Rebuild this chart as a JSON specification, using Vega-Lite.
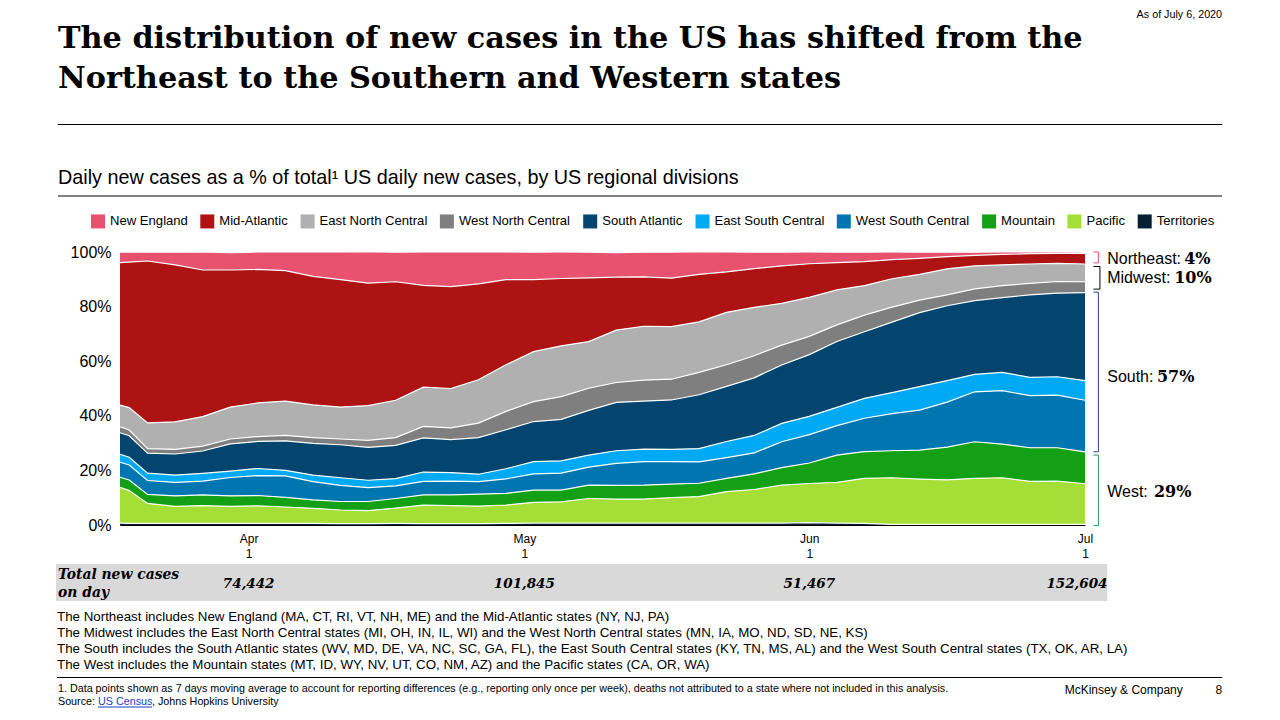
{
"$schema":"https://vega.github.io/schema/vega-lite/v6.json",
"width":965,"height":273,
"autosize":{"type":"none"},
"padding":{"left":120,"top":252,"right":195,"bottom":195},
"background":"white",
"view":{"stroke":null},
"title":{"text":["The distribution of new cases in the US has shifted from the","Northeast to the Southern and Western states"],"font":"DejaVu Serif","fontWeight":"bold","fontSize":30.3,"color":"black","anchor":"start","frame":"group","dx":-62,"offset":-109,"lineHeight":40,"baseline":"alphabetic"},
"config":{"font":"Liberation Sans","axis":{"grid":false,"ticks":false,"title":null,"domainColor":"black","labelColor":"black","zindex":1}},
"datasets":{"shares":[
{"date":"2020-03-18","region":"New England","share":3.8},{"date":"2020-03-18","region":"Mid-Atlantic","share":52.2},{"date":"2020-03-18","region":"East North Central","share":7.9},{"date":"2020-03-18","region":"West North Central","share":2.2},{"date":"2020-03-18","region":"South Atlantic","share":7.9},{"date":"2020-03-18","region":"East South Central","share":2.9},{"date":"2020-03-18","region":"West South Central","share":5.5},{"date":"2020-03-18","region":"Mountain","share":3.7},{"date":"2020-03-18","region":"Pacific","share":13.1},{"date":"2020-03-18","region":"Territories","share":0.7},
{"date":"2020-03-19","region":"New England","share":3.7},{"date":"2020-03-19","region":"Mid-Atlantic","share":53.3},{"date":"2020-03-19","region":"East North Central","share":8.2},{"date":"2020-03-19","region":"West North Central","share":2.1},{"date":"2020-03-19","region":"South Atlantic","share":7.9},{"date":"2020-03-19","region":"East South Central","share":2.8},{"date":"2020-03-19","region":"West South Central","share":5.5},{"date":"2020-03-19","region":"Mountain","share":3.9},{"date":"2020-03-19","region":"Pacific","share":12.0},{"date":"2020-03-19","region":"Territories","share":0.6},
{"date":"2020-03-21","region":"New England","share":3.2},{"date":"2020-03-21","region":"Mid-Atlantic","share":59.3},{"date":"2020-03-21","region":"East North Central","share":9.4},{"date":"2020-03-21","region":"West North Central","share":1.7},{"date":"2020-03-21","region":"South Atlantic","share":7.3},{"date":"2020-03-21","region":"East South Central","share":2.7},{"date":"2020-03-21","region":"West South Central","share":5.1},{"date":"2020-03-21","region":"Mountain","share":3.3},{"date":"2020-03-21","region":"Pacific","share":7.3},{"date":"2020-03-21","region":"Territories","share":0.6},
{"date":"2020-03-24","region":"New England","share":4.6},{"date":"2020-03-24","region":"Mid-Atlantic","share":57.5},{"date":"2020-03-24","region":"East North Central","share":10.1},{"date":"2020-03-24","region":"West North Central","share":1.7},{"date":"2020-03-24","region":"South Atlantic","share":7.7},{"date":"2020-03-24","region":"East South Central","share":2.7},{"date":"2020-03-24","region":"West South Central","share":4.9},{"date":"2020-03-24","region":"Mountain","share":3.9},{"date":"2020-03-24","region":"Pacific","share":6.2},{"date":"2020-03-24","region":"Territories","share":0.6},
{"date":"2020-03-27","region":"New England","share":6.6},{"date":"2020-03-27","region":"Mid-Atlantic","share":53.7},{"date":"2020-03-27","region":"East North Central","share":10.8},{"date":"2020-03-27","region":"West North Central","share":1.8},{"date":"2020-03-27","region":"South Atlantic","share":8.2},{"date":"2020-03-27","region":"East South Central","share":2.8},{"date":"2020-03-27","region":"West South Central","share":5.1},{"date":"2020-03-27","region":"Mountain","share":3.9},{"date":"2020-03-27","region":"Pacific","share":6.5},{"date":"2020-03-27","region":"Territories","share":0.6},
{"date":"2020-03-30","region":"New England","share":6.4},{"date":"2020-03-30","region":"Mid-Atlantic","share":50.2},{"date":"2020-03-30","region":"East North Central","share":11.7},{"date":"2020-03-30","region":"West North Central","share":1.8},{"date":"2020-03-30","region":"South Atlantic","share":10.0},{"date":"2020-03-30","region":"East South Central","share":2.3},{"date":"2020-03-30","region":"West South Central","share":6.7},{"date":"2020-03-30","region":"Mountain","share":3.9},{"date":"2020-03-30","region":"Pacific","share":6.2},{"date":"2020-03-30","region":"Territories","share":0.6},
{"date":"2020-04-02","region":"New England","share":6.4},{"date":"2020-04-02","region":"Mid-Atlantic","share":48.9},{"date":"2020-04-02","region":"East North Central","share":12.3},{"date":"2020-04-02","region":"West North Central","share":1.8},{"date":"2020-04-02","region":"South Atlantic","share":9.9},{"date":"2020-04-02","region":"East South Central","share":2.6},{"date":"2020-04-02","region":"West South Central","share":7.3},{"date":"2020-04-02","region":"Mountain","share":3.8},{"date":"2020-04-02","region":"Pacific","share":6.4},{"date":"2020-04-02","region":"Territories","share":0.6},
{"date":"2020-04-05","region":"New England","share":6.8},{"date":"2020-04-05","region":"Mid-Atlantic","share":47.8},{"date":"2020-04-05","region":"East North Central","share":12.6},{"date":"2020-04-05","region":"West North Central","share":2.0},{"date":"2020-04-05","region":"South Atlantic","share":10.8},{"date":"2020-04-05","region":"East South Central","share":2.0},{"date":"2020-04-05","region":"West South Central","share":7.9},{"date":"2020-04-05","region":"Mountain","share":3.5},{"date":"2020-04-05","region":"Pacific","share":6.0},{"date":"2020-04-05","region":"Territories","share":0.6},
{"date":"2020-04-08","region":"New England","share":8.9},{"date":"2020-04-08","region":"Mid-Atlantic","share":47.1},{"date":"2020-04-08","region":"East North Central","share":12.0},{"date":"2020-04-08","region":"West North Central","share":2.1},{"date":"2020-04-08","region":"South Atlantic","share":11.6},{"date":"2020-04-08","region":"East South Central","share":2.4},{"date":"2020-04-08","region":"West South Central","share":6.7},{"date":"2020-04-08","region":"Mountain","share":3.1},{"date":"2020-04-08","region":"Pacific","share":5.5},{"date":"2020-04-08","region":"Territories","share":0.6},
{"date":"2020-04-11","region":"New England","share":10.1},{"date":"2020-04-11","region":"Mid-Atlantic","share":46.7},{"date":"2020-04-11","region":"East North Central","share":11.7},{"date":"2020-04-11","region":"West North Central","share":2.1},{"date":"2020-04-11","region":"South Atlantic","share":12.1},{"date":"2020-04-11","region":"East South Central","share":2.8},{"date":"2020-04-11","region":"West South Central","share":5.9},{"date":"2020-04-11","region":"Mountain","share":3.1},{"date":"2020-04-11","region":"Pacific","share":5.0},{"date":"2020-04-11","region":"Territories","share":0.5},
{"date":"2020-04-14","region":"New England","share":11.5},{"date":"2020-04-14","region":"Mid-Atlantic","share":44.9},{"date":"2020-04-14","region":"East North Central","share":12.7},{"date":"2020-04-14","region":"West North Central","share":2.6},{"date":"2020-04-14","region":"South Atlantic","share":12.0},{"date":"2020-04-14","region":"East South Central","share":2.7},{"date":"2020-04-14","region":"West South Central","share":5.1},{"date":"2020-04-14","region":"Mountain","share":3.3},{"date":"2020-04-14","region":"Pacific","share":4.8},{"date":"2020-04-14","region":"Territories","share":0.5},
{"date":"2020-04-17","region":"New England","share":10.8},{"date":"2020-04-17","region":"Mid-Atlantic","share":43.4},{"date":"2020-04-17","region":"East North Central","share":13.7},{"date":"2020-04-17","region":"West North Central","share":2.8},{"date":"2020-04-17","region":"South Atlantic","share":12.2},{"date":"2020-04-17","region":"East South Central","share":2.7},{"date":"2020-04-17","region":"West South Central","share":4.6},{"date":"2020-04-17","region":"Mountain","share":3.5},{"date":"2020-04-17","region":"Pacific","share":5.6},{"date":"2020-04-17","region":"Territories","share":0.6},
{"date":"2020-04-20","region":"New England","share":12.2},{"date":"2020-04-20","region":"Mid-Atlantic","share":37.3},{"date":"2020-04-20","region":"East North Central","share":14.4},{"date":"2020-04-20","region":"West North Central","share":4.2},{"date":"2020-04-20","region":"South Atlantic","share":12.5},{"date":"2020-04-20","region":"East South Central","share":3.4},{"date":"2020-04-20","region":"West South Central","share":5.0},{"date":"2020-04-20","region":"Mountain","share":3.7},{"date":"2020-04-20","region":"Pacific","share":6.8},{"date":"2020-04-20","region":"Territories","share":0.5},
{"date":"2020-04-23","region":"New England","share":12.7},{"date":"2020-04-23","region":"Mid-Atlantic","share":37.3},{"date":"2020-04-23","region":"East North Central","share":14.4},{"date":"2020-04-23","region":"West North Central","share":4.3},{"date":"2020-04-23","region":"South Atlantic","share":12.1},{"date":"2020-04-23","region":"East South Central","share":3.1},{"date":"2020-04-23","region":"West South Central","share":5.1},{"date":"2020-04-23","region":"Mountain","share":3.9},{"date":"2020-04-23","region":"Pacific","share":6.6},{"date":"2020-04-23","region":"Territories","share":0.5},
{"date":"2020-04-26","region":"New England","share":11.7},{"date":"2020-04-26","region":"Mid-Atlantic","share":35.1},{"date":"2020-04-26","region":"East North Central","share":15.9},{"date":"2020-04-26","region":"West North Central","share":5.3},{"date":"2020-04-26","region":"South Atlantic","share":13.4},{"date":"2020-04-26","region":"East South Central","share":2.7},{"date":"2020-04-26","region":"West South Central","share":4.6},{"date":"2020-04-26","region":"Mountain","share":4.4},{"date":"2020-04-26","region":"Pacific","share":6.4},{"date":"2020-04-26","region":"Territories","share":0.5},
{"date":"2020-04-29","region":"New England","share":10.1},{"date":"2020-04-29","region":"Mid-Atlantic","share":31.2},{"date":"2020-04-29","region":"East North Central","share":17.1},{"date":"2020-04-29","region":"West North Central","share":6.7},{"date":"2020-04-29","region":"South Atlantic","share":14.3},{"date":"2020-04-29","region":"East South Central","share":3.7},{"date":"2020-04-29","region":"West South Central","share":5.3},{"date":"2020-04-29","region":"Mountain","share":4.3},{"date":"2020-04-29","region":"Pacific","share":6.7},{"date":"2020-04-29","region":"Territories","share":0.6},
{"date":"2020-05-02","region":"New England","share":10.0},{"date":"2020-05-02","region":"Mid-Atlantic","share":26.4},{"date":"2020-05-02","region":"East North Central","share":18.3},{"date":"2020-05-02","region":"West North Central","share":7.3},{"date":"2020-05-02","region":"South Atlantic","share":14.7},{"date":"2020-05-02","region":"East South Central","share":4.5},{"date":"2020-05-02","region":"West South Central","share":5.9},{"date":"2020-05-02","region":"Mountain","share":4.5},{"date":"2020-05-02","region":"Pacific","share":7.6},{"date":"2020-05-02","region":"Territories","share":0.7},
{"date":"2020-05-05","region":"New England","share":9.7},{"date":"2020-05-05","region":"Mid-Atlantic","share":24.7},{"date":"2020-05-05","region":"East North Central","share":18.6},{"date":"2020-05-05","region":"West North Central","share":8.3},{"date":"2020-05-05","region":"South Atlantic","share":15.2},{"date":"2020-05-05","region":"East South Central","share":4.5},{"date":"2020-05-05","region":"West South Central","share":6.2},{"date":"2020-05-05","region":"Mountain","share":4.3},{"date":"2020-05-05","region":"Pacific","share":7.8},{"date":"2020-05-05","region":"Territories","share":0.7},
{"date":"2020-05-08","region":"New England","share":9.4},{"date":"2020-05-08","region":"Mid-Atlantic","share":23.3},{"date":"2020-05-08","region":"East North Central","share":17.1},{"date":"2020-05-08","region":"West North Central","share":8.1},{"date":"2020-05-08","region":"South Atlantic","share":16.4},{"date":"2020-05-08","region":"East South Central","share":4.4},{"date":"2020-05-08","region":"West South Central","share":6.6},{"date":"2020-05-08","region":"Mountain","share":4.9},{"date":"2020-05-08","region":"Pacific","share":9.0},{"date":"2020-05-08","region":"Territories","share":0.7},
{"date":"2020-05-11","region":"New England","share":9.0},{"date":"2020-05-11","region":"Mid-Atlantic","share":19.4},{"date":"2020-05-11","region":"East North Central","share":19.2},{"date":"2020-05-11","region":"West North Central","share":7.3},{"date":"2020-05-11","region":"South Atlantic","share":17.7},{"date":"2020-05-11","region":"East South Central","share":4.6},{"date":"2020-05-11","region":"West South Central","share":8.1},{"date":"2020-05-11","region":"Mountain","share":5.0},{"date":"2020-05-11","region":"Pacific","share":8.8},{"date":"2020-05-11","region":"Territories","share":0.7},
{"date":"2020-05-14","region":"New England","share":9.0},{"date":"2020-05-14","region":"Mid-Atlantic","share":18.1},{"date":"2020-05-14","region":"East North Central","share":19.7},{"date":"2020-05-14","region":"West North Central","share":7.7},{"date":"2020-05-14","region":"South Atlantic","share":17.6},{"date":"2020-05-14","region":"East South Central","share":4.6},{"date":"2020-05-14","region":"West South Central","share":8.6},{"date":"2020-05-14","region":"Mountain","share":5.1},{"date":"2020-05-14","region":"Pacific","share":8.8},{"date":"2020-05-14","region":"Territories","share":0.7},
{"date":"2020-05-17","region":"New England","share":9.5},{"date":"2020-05-17","region":"Mid-Atlantic","share":17.7},{"date":"2020-05-17","region":"East North Central","share":19.3},{"date":"2020-05-17","region":"West North Central","share":7.6},{"date":"2020-05-17","region":"South Atlantic","share":18.1},{"date":"2020-05-17","region":"East South Central","share":4.5},{"date":"2020-05-17","region":"West South Central","share":8.2},{"date":"2020-05-17","region":"Mountain","share":5.0},{"date":"2020-05-17","region":"Pacific","share":9.3},{"date":"2020-05-17","region":"Territories","share":0.7},
{"date":"2020-05-20","region":"New England","share":8.3},{"date":"2020-05-20","region":"Mid-Atlantic","share":17.4},{"date":"2020-05-20","region":"East North Central","share":18.5},{"date":"2020-05-20","region":"West North Central","share":8.2},{"date":"2020-05-20","region":"South Atlantic","share":19.7},{"date":"2020-05-20","region":"East South Central","share":4.9},{"date":"2020-05-20","region":"West South Central","share":7.8},{"date":"2020-05-20","region":"Mountain","share":4.9},{"date":"2020-05-20","region":"Pacific","share":9.7},{"date":"2020-05-20","region":"Territories","share":0.7},
{"date":"2020-05-23","region":"New England","share":7.3},{"date":"2020-05-23","region":"Mid-Atlantic","share":14.8},{"date":"2020-05-23","region":"East North Central","share":19.2},{"date":"2020-05-23","region":"West North Central","share":7.9},{"date":"2020-05-23","region":"South Atlantic","share":20.2},{"date":"2020-05-23","region":"East South Central","share":5.9},{"date":"2020-05-23","region":"West South Central","share":7.6},{"date":"2020-05-23","region":"Mountain","share":4.9},{"date":"2020-05-23","region":"Pacific","share":11.5},{"date":"2020-05-23","region":"Territories","share":0.7},
{"date":"2020-05-26","region":"New England","share":6.0},{"date":"2020-05-26","region":"Mid-Atlantic","share":14.2},{"date":"2020-05-26","region":"East North Central","share":17.7},{"date":"2020-05-26","region":"West North Central","share":8.1},{"date":"2020-05-26","region":"South Atlantic","share":21.1},{"date":"2020-05-26","region":"East South Central","share":6.4},{"date":"2020-05-26","region":"West South Central","share":7.7},{"date":"2020-05-26","region":"Mountain","share":5.7},{"date":"2020-05-26","region":"Pacific","share":12.3},{"date":"2020-05-26","region":"Territories","share":0.7},
{"date":"2020-05-29","region":"New England","share":5.0},{"date":"2020-05-29","region":"Mid-Atlantic","share":13.7},{"date":"2020-05-29","region":"East North Central","share":15.3},{"date":"2020-05-29","region":"West North Central","share":7.3},{"date":"2020-05-29","region":"South Atlantic","share":21.4},{"date":"2020-05-29","region":"East South Central","share":6.7},{"date":"2020-05-29","region":"West South Central","share":9.5},{"date":"2020-05-29","region":"Mountain","share":6.4},{"date":"2020-05-29","region":"Pacific","share":13.9},{"date":"2020-05-29","region":"Territories","share":0.7},
{"date":"2020-06-01","region":"New England","share":4.3},{"date":"2020-06-01","region":"Mid-Atlantic","share":12.3},{"date":"2020-06-01","region":"East North Central","share":14.3},{"date":"2020-06-01","region":"West North Central","share":6.7},{"date":"2020-06-01","region":"South Atlantic","share":22.6},{"date":"2020-06-01","region":"East South Central","share":6.7},{"date":"2020-06-01","region":"West South Central","share":10.4},{"date":"2020-06-01","region":"Mountain","share":7.5},{"date":"2020-06-01","region":"Pacific","share":14.3},{"date":"2020-06-01","region":"Territories","share":0.9},
{"date":"2020-06-04","region":"New England","share":3.8},{"date":"2020-06-04","region":"Mid-Atlantic","share":10.0},{"date":"2020-06-04","region":"East North Central","share":12.8},{"date":"2020-06-04","region":"West North Central","share":6.1},{"date":"2020-06-04","region":"South Atlantic","share":24.1},{"date":"2020-06-04","region":"East South Central","share":6.7},{"date":"2020-06-04","region":"West South Central","share":10.8},{"date":"2020-06-04","region":"Mountain","share":10.0},{"date":"2020-06-04","region":"Pacific","share":14.9},{"date":"2020-06-04","region":"Territories","share":0.7},
{"date":"2020-06-07","region":"New England","share":3.4},{"date":"2020-06-07","region":"Mid-Atlantic","share":8.8},{"date":"2020-06-07","region":"East North Central","share":10.8},{"date":"2020-06-07","region":"West North Central","share":6.1},{"date":"2020-06-07","region":"South Atlantic","share":24.4},{"date":"2020-06-07","region":"East South Central","share":7.3},{"date":"2020-06-07","region":"West South Central","share":12.2},{"date":"2020-06-07","region":"Mountain","share":9.8},{"date":"2020-06-07","region":"Pacific","share":16.5},{"date":"2020-06-07","region":"Territories","share":0.6},
{"date":"2020-06-10","region":"New England","share":2.8},{"date":"2020-06-10","region":"Mid-Atlantic","share":7.0},{"date":"2020-06-10","region":"East North Central","share":10.4},{"date":"2020-06-10","region":"West North Central","share":5.5},{"date":"2020-06-10","region":"South Atlantic","share":25.8},{"date":"2020-06-10","region":"East South Central","share":7.7},{"date":"2020-06-10","region":"West South Central","share":13.6},{"date":"2020-06-10","region":"Mountain","share":9.9},{"date":"2020-06-10","region":"Pacific","share":17.1},{"date":"2020-06-10","region":"Territories","share":0.2},
{"date":"2020-06-13","region":"New England","share":2.2},{"date":"2020-06-13","region":"Mid-Atlantic","share":5.9},{"date":"2020-06-13","region":"East North Central","share":9.4},{"date":"2020-06-13","region":"West North Central","share":4.6},{"date":"2020-06-13","region":"South Atlantic","share":27.1},{"date":"2020-06-13","region":"East South Central","share":8.6},{"date":"2020-06-13","region":"West South Central","share":14.7},{"date":"2020-06-13","region":"Mountain","share":10.6},{"date":"2020-06-13","region":"Pacific","share":16.6},{"date":"2020-06-13","region":"Territories","share":0.2},
{"date":"2020-06-16","region":"New England","share":1.6},{"date":"2020-06-16","region":"Mid-Atlantic","share":4.5},{"date":"2020-06-16","region":"East North Central","share":9.5},{"date":"2020-06-16","region":"West North Central","share":4.0},{"date":"2020-06-16","region":"South Atlantic","share":27.4},{"date":"2020-06-16","region":"East South Central","share":7.9},{"date":"2020-06-16","region":"West South Central","share":16.5},{"date":"2020-06-16","region":"Mountain","share":12.0},{"date":"2020-06-16","region":"Pacific","share":16.3},{"date":"2020-06-16","region":"Territories","share":0.2},
{"date":"2020-06-19","region":"New England","share":1.1},{"date":"2020-06-19","region":"Mid-Atlantic","share":3.9},{"date":"2020-06-19","region":"East North Central","share":8.4},{"date":"2020-06-19","region":"West North Central","share":4.3},{"date":"2020-06-19","region":"South Atlantic","share":27.0},{"date":"2020-06-19","region":"East South Central","share":6.4},{"date":"2020-06-19","region":"West South Central","share":18.3},{"date":"2020-06-19","region":"Mountain","share":13.4},{"date":"2020-06-19","region":"Pacific","share":16.9},{"date":"2020-06-19","region":"Territories","share":0.2},
{"date":"2020-06-22","region":"New England","share":0.9},{"date":"2020-06-22","region":"Mid-Atlantic","share":3.8},{"date":"2020-06-22","region":"East North Central","share":7.6},{"date":"2020-06-22","region":"West North Central","share":4.4},{"date":"2020-06-22","region":"South Atlantic","share":27.4},{"date":"2020-06-22","region":"East South Central","share":6.7},{"date":"2020-06-22","region":"West South Central","share":19.6},{"date":"2020-06-22","region":"Mountain","share":12.3},{"date":"2020-06-22","region":"Pacific","share":17.1},{"date":"2020-06-22","region":"Territories","share":0.2},
{"date":"2020-06-25","region":"New England","share":0.6},{"date":"2020-06-25","region":"Mid-Atlantic","share":3.8},{"date":"2020-06-25","region":"East North Central","share":7.1},{"date":"2020-06-25","region":"West North Central","share":4.2},{"date":"2020-06-25","region":"South Atlantic","share":30.2},{"date":"2020-06-25","region":"East South Central","share":6.7},{"date":"2020-06-25","region":"West South Central","share":19.1},{"date":"2020-06-25","region":"Mountain","share":12.3},{"date":"2020-06-25","region":"Pacific","share":15.8},{"date":"2020-06-25","region":"Territories","share":0.2},
{"date":"2020-06-28","region":"New England","share":0.5},{"date":"2020-06-28","region":"Mid-Atlantic","share":3.7},{"date":"2020-06-28","region":"East North Central","share":6.6},{"date":"2020-06-28","region":"West North Central","share":4.3},{"date":"2020-06-28","region":"South Atlantic","share":30.6},{"date":"2020-06-28","region":"East South Central","share":6.7},{"date":"2020-06-28","region":"West South Central","share":19.3},{"date":"2020-06-28","region":"Mountain","share":12.2},{"date":"2020-06-28","region":"Pacific","share":15.9},{"date":"2020-06-28","region":"Territories","share":0.2},
{"date":"2020-07-01","region":"New England","share":0.4},{"date":"2020-07-01","region":"Mid-Atlantic","share":3.9},{"date":"2020-07-01","region":"East North Central","share":6.5},{"date":"2020-07-01","region":"West North Central","share":4.0},{"date":"2020-07-01","region":"South Atlantic","share":32.2},{"date":"2020-07-01","region":"East South Central","share":7.2},{"date":"2020-07-01","region":"West South Central","share":18.9},{"date":"2020-07-01","region":"Mountain","share":11.7},{"date":"2020-07-01","region":"Pacific","share":14.9},{"date":"2020-07-01","region":"Territories","share":0.2}
]},
"encoding":{
"x":{"field":"date","type":"temporal","scale":{"type":"utc","domain":["2020-03-18","2020-07-01"],"nice":false},"axis":{"values":["2020-04-01","2020-05-01","2020-06-01","2020-07-01"],"labelExpr":"[utcFormat(datum.value,'%b'),utcFormat(datum.value,'%-d')]","labelFontSize":12,"labelLineHeight":15,"labelPadding":8,"labelAngle":0,"labelOverlap":false,"labelFlush":false}},
"y":{"field":"pct","type":"quantitative","scale":{"domain":[0,100],"nice":false},"axis":{"values":[0,20,40,60,80,100],"labelExpr":"datum.value+'%'","labelFontSize":16,"labelPadding":9}}
},
"layer":[
{"data":{"values":[{"date":"2020-03-11T01:00:00Z","date2":"2020-07-03T10:00:00Z","pct":-14.29,"pct2":-27.84}],"format":{"parse":{"date":"date","date2":"date"}}},"mark":{"type":"rect","color":"#d9d9d9"},"encoding":{"x2":{"field":"date2"},"y2":{"field":"pct2"}}},
{"data":{"name":"shares"},"transform":[{"calculate":"indexof(['Territories','Pacific','Mountain','West South Central','East South Central','South Atlantic','West North Central','East North Central','Mid-Atlantic','New England'],datum.region)","as":"rank"}],"mark":{"type":"area"},"encoding":{"y":{"field":"share","type":"quantitative","stack":"zero"},"order":{"field":"rank","type":"quantitative"},"color":{"field":"region","type":"nominal","scale":{"domain":["New England","Mid-Atlantic","East North Central","West North Central","South Atlantic","East South Central","West South Central","Mountain","Pacific","Territories"],"range":["#e8526f","#ad1313","#b0b0b0","#7f7f7f","#03456e","#00a9f4","#0076b0","#13a014","#a4de36","#061f33"]},"legend":{"title":null,"orient":"none","legendX":-29,"legendY":-38,"direction":"horizontal","columns":10,"symbolType":"square","symbolSize":196,"symbolStrokeWidth":0,"labelFontSize":13.1,"labelColor":"black","labelOffset":5,"columnPadding":12.3,"symbolOpacity":1}}}},
{"data":{"name":"shares"},"transform":[{"calculate":"indexof(['Territories','Pacific','Mountain','West South Central','East South Central','South Atlantic','West North Central','East North Central','Mid-Atlantic','New England'],datum.region)","as":"rank"}],"mark":{"type":"line","color":"white","strokeWidth":1.2},"encoding":{"y":{"field":"share","type":"quantitative","stack":"zero"},"order":{"field":"rank","type":"quantitative"},"detail":{"field":"region","type":"nominal"}}},
{"data":{"values":[{"group":"Northeast","date":"2020-07-01T22:00:00Z","date2":"2020-07-02T11:00:00Z","pct":100,"pct2":100},{"group":"Northeast","date":"2020-07-02T11:00:00Z","date2":"2020-07-02T11:00:00Z","pct":100,"pct2":96},{"group":"Northeast","date":"2020-07-01T22:00:00Z","date2":"2020-07-02T11:00:00Z","pct":96,"pct2":96},
{"group":"Midwest","date":"2020-07-01T22:00:00Z","date2":"2020-07-02T15:00:00Z","pct":94.7,"pct2":94.7},{"group":"Midwest","date":"2020-07-02T15:00:00Z","date2":"2020-07-02T15:00:00Z","pct":94.7,"pct2":86.4},{"group":"Midwest","date":"2020-07-01T22:00:00Z","date2":"2020-07-02T15:00:00Z","pct":86.4,"pct2":86.4},
{"group":"South","date":"2020-07-01T22:00:00Z","date2":"2020-07-02T11:00:00Z","pct":85.3,"pct2":85.3},{"group":"South","date":"2020-07-02T11:00:00Z","date2":"2020-07-02T11:00:00Z","pct":85.3,"pct2":26.8},{"group":"South","date":"2020-07-01T22:00:00Z","date2":"2020-07-02T11:00:00Z","pct":26.8,"pct2":26.8},
{"group":"West","date":"2020-07-01T22:00:00Z","date2":"2020-07-02T11:00:00Z","pct":25.6,"pct2":25.6},{"group":"West","date":"2020-07-02T11:00:00Z","date2":"2020-07-02T11:00:00Z","pct":25.6,"pct2":-0.2},{"group":"West","date":"2020-07-01T22:00:00Z","date2":"2020-07-02T11:00:00Z","pct":-0.2,"pct2":-0.2}],"format":{"parse":{"date":"date","date2":"date"}}},"mark":{"type":"rule","strokeWidth":1},"encoding":{"x2":{"field":"date2"},"y2":{"field":"pct2"},"color":{"field":"group","type":"nominal","scale":{"domain":["Northeast","Midwest","South","West"],"range":["#e8526f","#000000","#2a3fa0","#1f9e5a"]},"legend":null}}},
{"data":{"values":[{"date":"2020-03-11T06:00:00Z","date2":"2020-07-15T22:00:00Z","pct":146.7},{"date":"2020-03-11T03:30:00Z","date2":"2020-07-15T22:00:00Z","pct":-55.86}],"format":{"parse":{"date":"date","date2":"date"}}},"mark":{"type":"rule","color":"black","strokeWidth":1},"encoding":{"x2":{"field":"date2"}}},
{"data":{"values":[{"date":"2020-03-11T06:00:00Z","date2":"2020-07-15T22:00:00Z","pct":120.5}],"format":{"parse":{"date":"date","date2":"date"}}},"mark":{"type":"rule","color":"#808080","strokeWidth":2},"encoding":{"x2":{"field":"date2"}}},
{"data":{"values":[{"date":"2020-03-15T14:40:00Z","date2":"2020-03-21T11:30:00Z","pct":-66.67}],"format":{"parse":{"date":"date","date2":"date"}}},"mark":{"type":"rule","color":"#1a3fc4","strokeWidth":1},"encoding":{"x2":{"field":"date2"}}},
{"data":{"values":[{"date":"2020-03-11T06:00:00Z","pct":127.1,"text":"Daily new cases as a % of total¹ US daily new cases, by US regional divisions"}]},"mark":{"type":"text","align":"left","baseline":"middle","fontSize":19.8,"color":"black"},"encoding":{"text":{"field":"text"}}},
{"data":{"values":[{"date":"2020-07-15T22:00:00Z","pct":186.8,"text":"As of July 6, 2020"}]},"mark":{"type":"text","align":"right","baseline":"middle","fontSize":10.75,"color":"black"},"encoding":{"text":{"field":"text"}}},
{"data":{"values":[{"date":"2020-03-11T03:30:00Z","pct":-33.7,"text":"The Northeast includes New England (MA, CT, RI, VT, NH, ME) and the Mid-Atlantic states (NY, NJ, PA)"},{"date":"2020-03-11T03:30:00Z","pct":-39.56,"text":"The Midwest includes the East North Central states (MI, OH, IN, IL, WI) and the West North Central states (MN, IA, MO, ND, SD, NE, KS)"},{"date":"2020-03-11T03:30:00Z","pct":-45.4,"text":"The South includes the South Atlantic states (WV, MD, DE, VA, NC, SC, GA, FL), the East South Central states (KY, TN, MS, AL) and the West South Central states (TX, OK, AR, LA)"},{"date":"2020-03-11T03:30:00Z","pct":-51.3,"text":"The West includes the Mountain states (MT, ID, WY, NV, UT, CO, NM, AZ) and the Pacific states (CA, OR, WA)"}]},"mark":{"type":"text","align":"left","baseline":"middle","fontSize":13.33,"color":"black"},"encoding":{"text":{"field":"text"}}},
{"data":{"values":[{"date":"2020-03-11T06:00:00Z","pct":-60.07,"text":"1. Data points shown as 7 days moving average to account for reporting differences (e.g., reporting only once per week), deaths not attributed to a state where not included in this analysis."},{"date":"2020-03-11T06:00:00Z","pct":-64.84,"text":"Source:"},{"date":"2020-03-21T11:30:00Z","pct":-64.84,"text":", Johns Hopkins University"}]},"mark":{"type":"text","align":"left","baseline":"middle","fontSize":10.75,"color":"black"},"encoding":{"text":{"field":"text"}}},
{"data":{"values":[{"date":"2020-03-15T14:40:00Z","pct":-64.84,"text":"US Census"}]},"mark":{"type":"text","align":"left","baseline":"middle","fontSize":10.75,"color":"#1a3fc4"},"encoding":{"text":{"field":"text"}}},
{"data":{"values":[{"date":"2020-06-28T19:00:00Z","pct":-60.44,"text":"McKinsey & Company"}]},"mark":{"type":"text","align":"left","baseline":"middle","fontSize":12,"color":"black"},"encoding":{"text":{"field":"text"}}},
{"data":{"values":[{"date":"2020-07-15T22:00:00Z","pct":-60.44,"text":"8"}]},"mark":{"type":"text","align":"right","baseline":"middle","fontSize":12,"color":"black"},"encoding":{"text":{"field":"text"}}},
{"data":{"values":[{"date":"2020-07-03T10:00:00Z","pct":97.43,"text":"Northeast:"},{"date":"2020-07-03T10:00:00Z","pct":90.43,"text":"Midwest:"},{"date":"2020-07-03T10:00:00Z","pct":54.23,"text":"South:"},{"date":"2020-07-03T10:00:00Z","pct":12.08,"text":"West:"}]},"mark":{"type":"text","align":"left","baseline":"middle","fontSize":16,"color":"black"},"encoding":{"text":{"field":"text"}}},
{"data":{"values":[{"date":"2020-07-11T19:00:00Z","pct":97.43,"text":"4%"},{"date":"2020-07-10T17:00:00Z","pct":90.43,"text":"10%"},{"date":"2020-07-08T20:00:00Z","pct":54.23,"text":"57%"},{"date":"2020-07-08T12:00:00Z","pct":12.08,"text":"29%"}]},"mark":{"type":"text","align":"left","baseline":"middle","font":"DejaVu Serif","fontWeight":"bold","fontSize":16,"color":"black"},"encoding":{"text":{"field":"text"}}},
{"data":{"values":[{"date":"2020-03-11T06:00:00Z","pct":-18.32,"text":"Total new cases"},{"date":"2020-03-11T06:00:00Z","pct":-24.91,"text":"on day"}]},"mark":{"type":"text","align":"left","baseline":"middle","font":"DejaVu Serif","fontWeight":"bold","fontStyle":"italic","fontSize":13.9,"color":"black"},"encoding":{"text":{"field":"text"}}},
{"data":{"values":[{"date":"2020-04-01","pct":-21.62,"text":"74,442"},{"date":"2020-05-01","pct":-21.62,"text":"101,845"},{"date":"2020-06-01","pct":-21.62,"text":"51,467"},{"date":"2020-06-30T03:00:00Z","pct":-21.62,"text":"152,604"}]},"mark":{"type":"text","align":"center","baseline":"middle","font":"DejaVu Serif","fontWeight":"bold","fontStyle":"italic","fontSize":13.5,"color":"black"},"encoding":{"text":{"field":"text"}}}
],
"resolve":{"scale":{"color":"independent"}}
}
